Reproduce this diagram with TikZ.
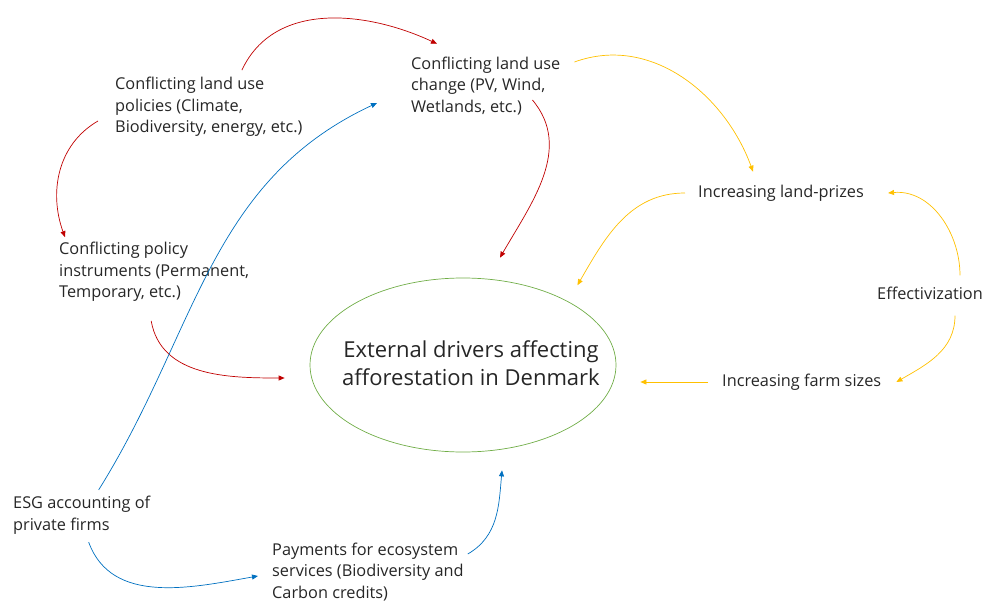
\documentclass[tikz,border=0pt]{standalone}
\usepackage{fontspec}
\setmainfont{Open Sans}
\usetikzlibrary{arrows.meta,shapes.geometric}
\definecolor{arrred}{HTML}{C00000}
\definecolor{arrblue}{HTML}{0070C0}
\definecolor{arryel}{HTML}{FFC000}
\definecolor{ellgreen}{HTML}{70AD47}
\definecolor{txtgray}{HTML}{262626}
\begin{document}
\begin{tikzpicture}[x=1pt,y=-1pt,
    lbl/.style={anchor=west, inner sep=0pt, align=left, text=txtgray, font=\fontsize{16.3}{21.5}\selectfont},
    redarr/.style={draw=arrred, line width=0.7pt, -{Triangle[length=6pt,width=5pt]}},
    bluearr/.style={draw=arrblue, line width=0.7pt, -{Triangle[length=6pt,width=5pt]}},
    yelarr/.style={draw=arryel, line width=0.7pt, -{Triangle[length=6pt,width=5pt]}}]
        \useasboundingbox (0,0) rectangle (986,602);

        \node[lbl] (policies) at (115,107) {Conflicting land use\\policies (Climate,\\Biodiversity, energy, etc.)};
        \node[lbl] (change) at (411,86) {Conflicting land use\\change (PV, Wind,\\Wetlands, etc.)};
        \node[lbl] (instr) at (59,272) {Conflicting policy\\instruments (Permanent,\\Temporary, etc.)};
        \node[ellipse, draw=ellgreen, line width=0.7pt, minimum width=306pt, minimum height=174pt] (drivers) at (463,365) {};
        \node[align=center, inner sep=0pt, text=txtgray, font=\fontsize{22}{28}\selectfont] (drvtext) at (471,363)
              {External drivers affecting\\afforestation in Denmark};
        \node[lbl] (prizes) at (698,193) {Increasing land-prizes};
        \node[lbl] (effect) at (877,293) {Effectivization};
        \node[lbl] (farm) at (722,382) {Increasing farm sizes};
        \node[lbl] (esg) at (13,515) {ESG accounting of\\private firms};
        \node[lbl] (pay) at (272,572) {Payments for ecosystem\\services (Biodiversity and\\Carbon credits)};

        % policy side
        \draw[redarr] ([xshift=33pt,yshift=7pt]policies.north) to[out=65,in=155] ([xshift=26pt,yshift=13pt]change.north west);
        \draw[redarr] ([xshift=-17pt,yshift=-14pt]policies.west) to[out=210,in=110] ([xshift=6pt,yshift=5pt]instr.north west);
        \draw[redarr] ([xshift=-3pt,yshift=-19pt]instr.south) to[out=-80,in=180] ([xshift=-25pt,yshift=-13pt]drivers.west);
        \draw[redarr] ([xshift=-28pt,yshift=-14pt]change.east) to[out=-50,in=60] ([xshift=37pt,yshift=20pt]drivers.north);

        % private finance
        \draw[bluearr] ([xshift=17pt,yshift=6pt]esg.north) to[out=58,in=205] ([xshift=-34pt,yshift=-17pt]change.west);
        \draw[bluearr] ([xshift=7pt,yshift=-8pt]esg.south) to[out=-70,in=190] ([xshift=-14pt,yshift=-4pt]pay.west);
        \draw[bluearr] ([xshift=4pt,yshift=18pt]pay.east) to[out=30,in=-95] ([xshift=39pt,yshift=-18pt]drivers.south);

        % land market
        \draw[yelarr] ([xshift=14pt,yshift=24pt]change.east) to[out=20,in=110] ([xshift=-28pt,yshift=13pt]prizes.north);
        \draw[yelarr] ([xshift=-13pt]prizes.west) to[out=180,in=60] ([xshift=6pt,yshift=18pt]drivers.north east);
        \draw[yelarr] ([xshift=30pt,yshift=11pt]effect.north) to[out=90,in=5] ([xshift=24pt]prizes.east);
        \draw[yelarr] ([xshift=25pt,yshift=-16pt]effect.south) to[out=-90,in=30] ([xshift=15pt]farm.east);
        \draw[yelarr] ([xshift=-14pt]farm.west) -- ([xshift=24pt]drivers.east |- farm.west);
\end{tikzpicture}
\end{document}
